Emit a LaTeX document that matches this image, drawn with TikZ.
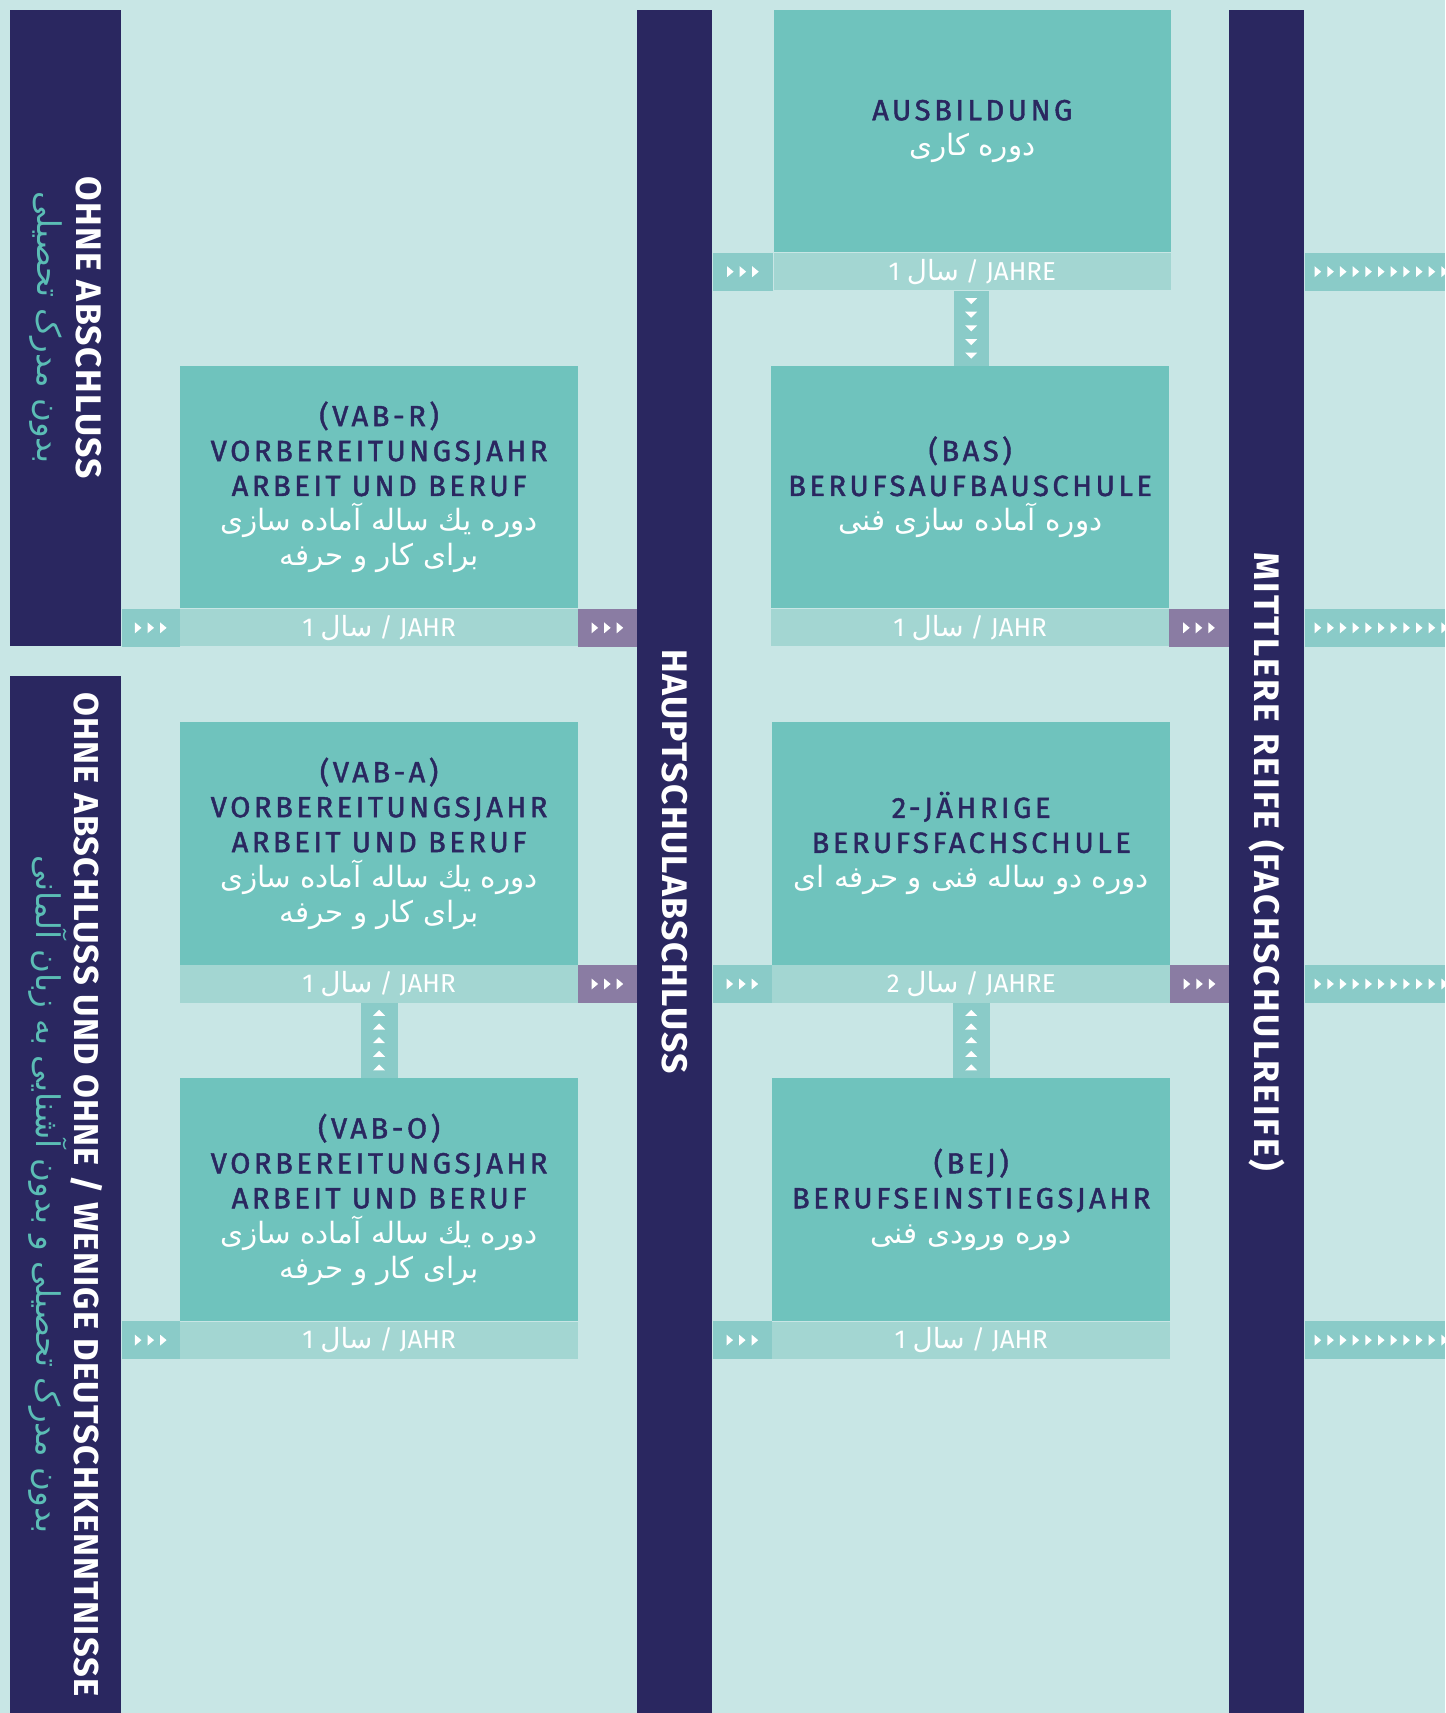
\documentclass[tikz,border=0pt]{standalone}
\usepackage{fontspec}
\setmainfont{Fira Sans}
\newfontfamily\farsi[Script=Arabic]{DejaVu Sans}
\newfontfamily\headfont[FakeBold=1.5,LetterSpace=12]{Fira Sans}
\TeXXeTstate=1
\usetikzlibrary{positioning,calc}

\definecolor{Paper}{RGB}{200,230,229}
\definecolor{Navy}{RGB}{42,39,96}
\definecolor{Module}{RGB}{111,195,189}
\definecolor{Term}{RGB}{163,214,210}
\definecolor{Pass}{RGB}{138,203,200}
\definecolor{Exit}{RGB}{138,124,163}
\definecolor{FaTeal}{RGB}{91,189,181}

\newcommand{\fa}[1]{{\mdseries\farsi\beginR#1\endR}}
\newcommand{\fw}[1]{{\color{white}\fontsize{15.3}{19}\selectfont\fa{#1}}}
\newcommand{\ft}[1]{{\color{FaTeal}\fontsize{17}{20}\selectfont\fa{#1}}}
\newcommand{\dur}[2]{#1 {\fontsize{14.5}{16}\selectfont\fa{سال}} / #2}

\tikzset{
  bar/.style={fill=Navy, inner sep=0pt},
  bartext/.style={rotate=-90, align=center, text=white, inner sep=0pt,
    font=\fontsize{18.5}{23}\selectfont\bfseries\addfontfeatures{LetterSpace=4}},
  module/.style={fill=Module, minimum width=7.28cm, minimum height=4.44cm, inner sep=0pt,
    align=center, text=Navy, font=\fontsize{15.2}{18.2}\selectfont\headfont},
  term/.style={fill=Term, minimum width=7.28cm, minimum height=0.68cm, inner sep=0pt,
    text=white, font=\fontsize{13.5}{16}\selectfont, below=0pt of #1},
}

\begin{document}
\begin{tikzpicture}[x=0.02cm,y=-0.02cm,
  rchev/.pic={\foreach \k in {-1,0,1} \fill[white] (\k*11.5-3,-5) -- ++(6,5) -- ++(-6,5) -- cycle;},
  longchev/.pic={\foreach \k in {0,...,10} \fill[white] (\k*11.6+9,-5) -- ++(6,5) -- ++(-6,5) -- cycle;},
  dchev/.pic={\foreach \k in {-2,...,2} \fill[white] (-5.5,\k*12.5-2.5) -- ++(11,0) -- ++(-5.5,5.5) -- cycle;},
  uchev/.pic={\foreach \k in {-2,...,2} \fill[white] (-5.5,\k*12.5+2.5) -- ++(11,0) -- ++(-5.5,-5.5) -- cycle;}]
  \useasboundingbox (0,0) rectangle (1323,1568);
  \fill[Paper] (0,0) rectangle (1323,1568);
  \coordinate (edge) at (1323,0);

  % qualification bars
  \node[bar, minimum width=2.04cm, minimum height=11.64cm] (noQual) at (60,300) {};
  \node[bar, minimum width=2.04cm, minimum height=18.98cm] (noGerman) at (60,1093.5) {};
  \node[bar, minimum width=1.38cm, minimum height=31.18cm] (haupt) at (617.5,788.5) {};
  \node[bar, minimum width=1.38cm, minimum height=31.18cm] (mitt) at (1159.5,788.5) {};

  \node[bartext] (noQualLbl) at (noQual) {OHNE ABSCHLUSS\\[-3pt]\ft{بدون مدرک تحصیلی}};
  \node[bartext, font=\fontsize{18}{23}\selectfont\bfseries\addfontfeatures{LetterSpace=3.5}] (noGermanLbl) at (noGerman)
    {OHNE ABSCHLUSS UND OHNE / WENIGE DEUTSCHKENNTNISSE\\[-3pt]\ft{بدون مدرک تحصیلی و بدون آشنایی به زبان آلمانی}};
  \node[bartext] (hauptLbl) at (haupt) {HAUPTSCHULABSCHLUSS};
  \node[bartext, font=\fontsize{18.5}{23}\selectfont\bfseries\addfontfeatures{LetterSpace=6.5}] (mittLbl) at (mitt) {MITTLERE REIFE (FACHSCHULREIFE)};

  % school types
  \node[module] (ausb) at (890,120) {AUSBILDUNG\\\fw{دوره کاری}};
  \node[term=ausb] (ausbT) {\dur{1}{JAHRE}};
  \node[module] (bas) at (888,446) {(BAS)\\BERUFSAUFBAUSCHULE\\\fw{دوره آماده سازی فنی}};
  \node[term=bas] (basT) {\dur{1}{JAHR}};
  \node[module] (bfs) at (889,772) {2-JÄHRIGE\\BERUFSFACHSCHULE\\\fw{دوره دو ساله فنی و حرفه ای}};
  \node[term=bfs] (bfsT) {\dur{2}{JAHRE}};
  \node[module] (bej) at (889,1098) {(BEJ)\\BERUFSEINSTIEGSJAHR\\\fw{دوره ورودی فنی}};
  \node[term=bej] (bejT) {\dur{1}{JAHR}};

  \node[module] (vabr) at (347,446) {(VAB-R)\\VORBEREITUNGSJAHR\\ARBEIT UND BERUF\\\fw{دوره یك ساله آماده سازی}\\\fw{برای کار و حرفه}};
  \node[term=vabr] (vabrT) {\dur{1}{JAHR}};
  \node[module] (vaba) at (347,772) {(VAB-A)\\VORBEREITUNGSJAHR\\ARBEIT UND BERUF\\\fw{دوره یك ساله آماده سازی}\\\fw{برای کار و حرفه}};
  \node[term=vaba] (vabaT) {\dur{1}{JAHR}};
  \node[module] (vabo) at (347,1098) {(VAB-O)\\VORBEREITUNGSJAHR\\ARBEIT UND BERUF\\\fw{دوره یك ساله آماده سازی}\\\fw{برای کار و حرفه}};
  \node[term=vabo] (vaboT) {\dur{1}{JAHR}};

  % ways in
  \foreach \a/\b in {noQual/vabrT,noGerman/vaboT,haupt/ausbT,haupt/bfsT,haupt/bejT} {
    \fill[Pass] (\a.east |- \b.north) rectangle (\b.south west);
    \pic at ($(\a.east |- \b.center)!.5!(\b.west)$) {rchev};
  }
  % ways out
  \foreach \a/\b in {vabrT/haupt,vabaT/haupt,basT/mitt,bfsT/mitt} {
    \fill[Exit] (\a.north east) rectangle (\b.west |- \a.south);
    \pic at ($(\a.east)!.5!(\b.west |- \a.center)$) {rchev};
  }
  \foreach \a in {ausbT,basT,bfsT,bejT} {
    \fill[Pass] (mitt.east |- \a.north) rectangle (edge |- \a.south);
    \pic at (mitt.east |- \a.center) {longchev};
  }

  % links between modules
  \fill[Pass] ([xshift=-0.34cm]ausbT.south) rectangle ([xshift=0.34cm]bas.north);
  \pic at ($(ausbT.south)!.5!(bas.north)$) {dchev};
  \fill[Pass] ([xshift=-0.34cm]vabaT.south) rectangle ([xshift=0.34cm]vabo.north);
  \pic at ($(vabaT.south)!.5!(vabo.north)$) {uchev};
  \fill[Pass] ([xshift=-0.34cm]bfsT.south) rectangle ([xshift=0.34cm]bej.north);
  \pic at ($(bfsT.south)!.5!(bej.north)$) {uchev};
\end{tikzpicture}
\end{document}
